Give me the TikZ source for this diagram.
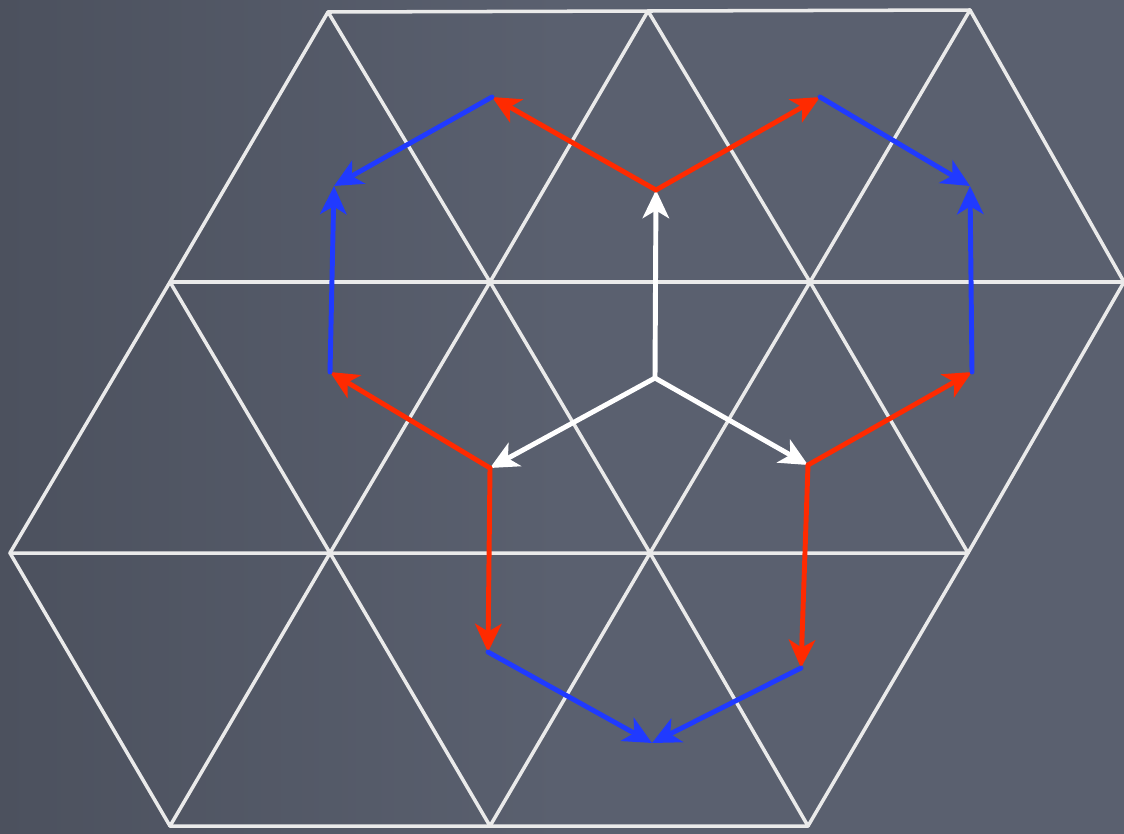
\documentclass[tikz,border=0pt]{standalone}
\usetikzlibrary{arrows.meta}
\definecolor{slate}{RGB}{90,96,111}
\definecolor{slatedark}{RGB}{76,81,94}
\definecolor{gridwhite}{RGB}{234,234,234}
\definecolor{hopred}{RGB}{255,42,0}
\definecolor{hopblue}{RGB}{32,58,255}
\begin{document}
\begin{tikzpicture}[x=0.01cm,y=-0.01cm,line join=round,line cap=round,>={Stealth[length=8pt,width=7.5pt,inset=2.2pt]}]
	\tikzset{grid/.style={gridwhite,line width=1pt},
		hop/.style={->,line width=1.4pt}}
	\shade[left color=slatedark,right color=slate,middle color=slate] (0,0) rectangle (1124,833);
	\useasboundingbox (0,0) rectangle (1124,833);
	% lattice points
	\coordinate (a0) at (328,12); \coordinate (a1) at (648,11); \coordinate (a2) at (970,10);
	\coordinate (b0) at (170,282); \coordinate (b1) at (490,282); \coordinate (b2) at (810,282); \coordinate (b3) at (1124,282);
	\coordinate (c0) at (10,553); \coordinate (c1) at (330,553); \coordinate (c2) at (650,553); \coordinate (c3) at (968,553);
	\coordinate (d0) at (170,826); \coordinate (d1) at (490,826); \coordinate (d2) at (808,826);
	% triangle centres
	\coordinate (o) at (655,378);
	\coordinate (n) at (656,190); \coordinate (m1) at (490,468); \coordinate (m2) at (808,465);
	\coordinate (r1) at (492,97); \coordinate (r2) at (820,97);
	\coordinate (r3) at (330,372); \coordinate (r4) at (488,652);
	\coordinate (r5) at (972,372); \coordinate (r6) at (801,668);
	\coordinate (s1) at (334,186); \coordinate (s2) at (970,186); \coordinate (s3) at (652,743);
	% lattice
	\draw[grid] (a0)--(a2) (b0)--(b3) (c0)--(c3) (d0)--(d2);
	\draw[grid] (a0)--(b0)--(c0) (a1)--(b1)--(c1)--(d0) (a2)--(b2)--(c2)--(d1) (b3)--(c3)--(d2);
	\draw[grid] (c0)--(d0) (b0)--(c1)--(d1) (a0)--(b1)--(c2)--(d2) (a1)--(b2)--(c3) (a2)--(b3);
	% hops
	\draw[hop,white] (o)--(n); \draw[hop,white] (o)--(m1); \draw[hop,white] (o)--(m2);
	\foreach \p/\q in {n/r1,n/r2,m1/r3,m1/r4,m2/r5,m2/r6}
		\draw[hop,hopred] (\p)--(\q);
	\foreach \p/\q in {r1/s1,r3/s1,r2/s2,r5/s2,r4/s3,r6/s3}
		\draw[hop,hopblue] (\p)--(\q);
\end{tikzpicture}
\end{document}
